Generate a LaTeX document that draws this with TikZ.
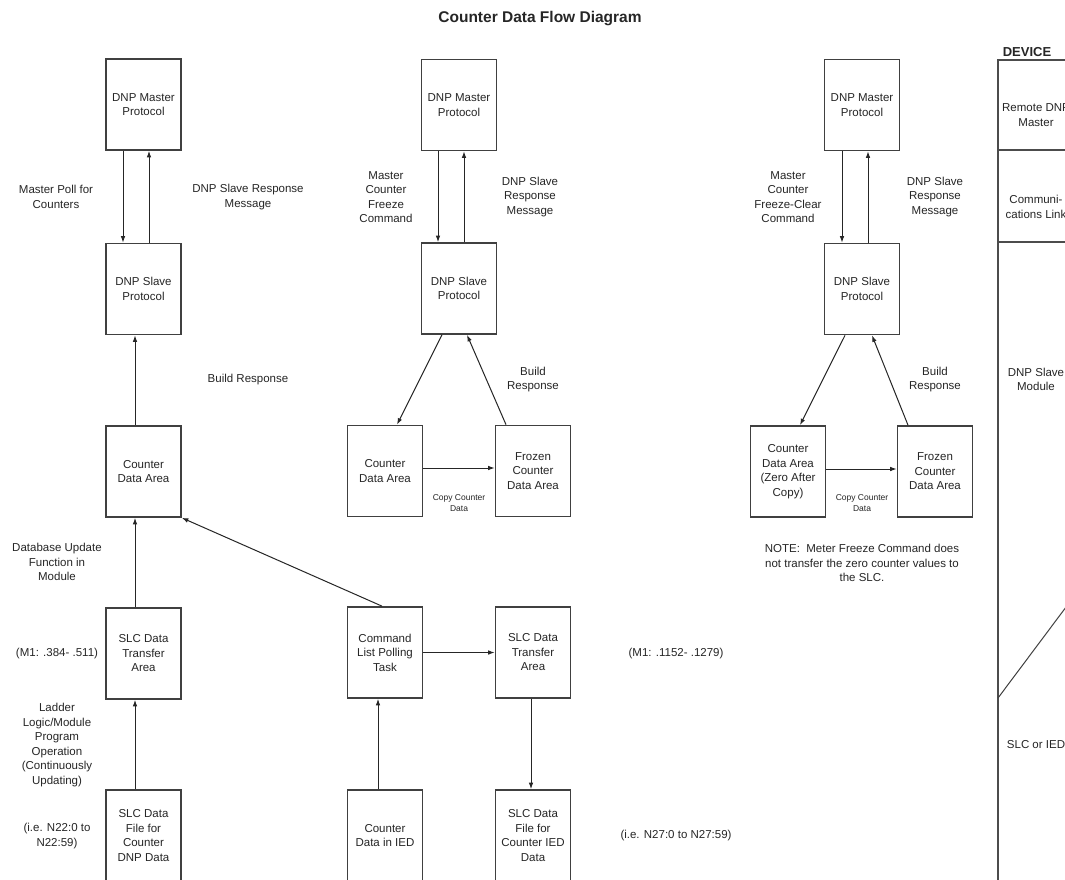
\documentclass[tikz,border=0pt]{standalone}
\usepackage{fontspec}
\setmainfont{Liberation Sans}
\usetikzlibrary{arrows.meta}
\begin{document}
\begin{tikzpicture}[x=1pt,y=-1pt,
  box/.style={draw=black!75, line width=1.7pt, minimum width=75pt, minimum height=91pt,
    inner sep=0pt, align=center, font=\fontsize{11.5}{14.5}\selectfont, text=black!85},
  lbl/.style={align=center, inner sep=0pt, font=\fontsize{11.5}{14.5}\selectfont, text=black!85},
  small/.style={align=center, inner sep=0pt, font=\fontsize{8.5}{11}\selectfont, text=black!85},
  arr/.style={draw=black!85, line width=1pt, -{Latex[length=6.5pt,width=4.6pt]}},
  devline/.style={draw=black!70, line width=1.6pt},
  bold/.style={inner sep=0pt, font=\bfseries\fontsize{13}{15}\selectfont, text=black!85}]
\clip (0,0) rectangle (1065,880);
\fill[white] (0,0) rectangle (1065,880);

% title
\node[bold, font=\bfseries\fontsize{15.5}{18}\selectfont] (title) at (540,19) {Counter Data Flow Diagram};

% ---------- column 1 ----------
\node[box] (m1) at (143.5,104.5) {DNP Master\\Protocol};
\node[box] (s1) at (143.5,289) {DNP Slave\\Protocol};
\node[box] (c1) at (143.5,471.5) {Counter\\Data Area};
\node[box] (t1) at (143.5,653.5) {SLC Data\\Transfer\\Area};
\node[box] (f1) at (143.5,835.5) {SLC Data\\File for\\Counter\\DNP Data};

\draw[arr] ([xshift=-20.5pt]m1.south) -- ([xshift=-20.5pt]s1.north);
\draw[arr] ([xshift=5.5pt]s1.north) -- ([xshift=5.5pt]m1.south);
\draw[arr] ([xshift=-8.5pt]c1.north) -- ([xshift=-8.5pt]s1.south);
\draw[arr] ([xshift=-8.5pt]t1.north) -- ([xshift=-8.5pt]c1.south);
\draw[arr] ([xshift=-8.5pt]f1.north) -- ([xshift=-8.5pt]t1.south);

\node[lbl] (l1a) at (56,197) {Master Poll for\\Counters};
\node[lbl] (l1b) at (248,197) {DNP Slave Response\\Message};
\node[lbl] (l1c) at (248,380) {Build Response};
\node[lbl] (l1d) at (57,562) {Database Update\\Function in\\Module};
\node[lbl] (l1e) at (57,654) {(M1: .384- .511)};
\node[lbl] (l1f) at (57,745) {Ladder\\Logic/Module\\Program\\Operation\\(Continuously\\Updating)};
\node[lbl] (l1g) at (57,836) {(i.e. N22:0 to\\N22:59)};

% ---------- column 2 ----------
\node[box] (m2) at (459,105) {DNP Master\\Protocol};
\node[box] (s2) at (459,288.5) {DNP Slave\\Protocol};
\node[box] (c2) at (385,471) {Counter\\Data Area};
\node[box] (z2) at (533,471) {Frozen\\Counter\\Data Area};
\node[box] (cmd) at (385,652.5) {Command\\List Polling\\Task};
\node[box] (t2) at (533,652.5) {SLC Data\\Transfer\\Area};
\node[box] (ied) at (385,835.5) {Counter\\Data in IED};
\node[box] (f2) at (533,835.5) {SLC Data\\File for\\Counter IED\\Data};

\draw[arr] ([xshift=-21pt]m2.south) -- ([xshift=-21pt]s2.north);
\draw[arr] ([xshift=5pt]s2.north) -- ([xshift=5pt]m2.south);
\draw[arr] ([xshift=-17pt]s2.south) -- ([xshift=12pt]c2.north);
\draw[arr] ([xshift=-27pt]z2.north) -- ([xshift=8pt]s2.south);
\draw[arr] ([yshift=3pt]c2.east) -- ([yshift=3pt]z2.west);
\draw[arr] ([xshift=-3pt]cmd.north) -- (c1.south east);
\draw[arr] (cmd.east) -- (t2.west);
\draw[arr] ([xshift=-7pt]ied.north) -- ([xshift=-7pt]cmd.south);
\draw[arr] ([xshift=-2pt]t2.south) -- ([xshift=-2pt]f2.north);

\node[lbl] (l2a) at (386,197) {Master\\Counter\\Freeze\\Command};
\node[lbl] (l2b) at (530,197) {DNP Slave\\Response\\Message};
\node[lbl] (l2c) at (533,379.5) {Build\\Response};
\node[small] (l2d) at (459,503) {Copy Counter\\Data};
\node[lbl] (l2e) at (676,654) {(M1: .1152- .1279)};
\node[lbl] (l2f) at (676,836) {(i.e. N27:0 to N27:59)};

% ---------- column 3 ----------
\node[box] (m3) at (862,105) {DNP Master\\Protocol};
\node[box] (s3) at (862,289) {DNP Slave\\Protocol};
\node[box] (c3) at (788,471.5) {Counter\\Data Area\\(Zero After\\Copy)};
\node[box] (z3) at (935,471.5) {Frozen\\Counter\\Data Area};

\draw[arr] ([xshift=-20pt]m3.south) -- ([xshift=-20pt]s3.north);
\draw[arr] ([xshift=6pt]s3.north) -- ([xshift=6pt]m3.south);
\draw[arr] ([xshift=-17pt]s3.south) -- ([xshift=12pt]c3.north);
\draw[arr] ([xshift=-27pt]z3.north) -- ([xshift=10pt]s3.south);
\draw[arr] ([yshift=2.5pt]c3.east) -- ([yshift=2.5pt]z3.west);

\node[lbl] (l3a) at (788,197) {Master\\Counter\\Freeze-Clear\\Command};
\node[lbl] (l3b) at (935,197) {DNP Slave\\Response\\Message};
\node[lbl] (l3c) at (935,379.5) {Build\\Response};
\node[small] (l3d) at (862,503.5) {Copy Counter\\Data};
\node[lbl] (l3e) at (862,563) {NOTE:\ \ Meter Freeze Command does\\not transfer the zero counter values to\\the SLC.};

% ---------- device column ----------
\node[bold] (dev) at (1027,52) {DEVICE};
\coordinate (dtl) at (998,60);
\coordinate (dtr) at (1090,60);
\coordinate (dbl) at (998,890);
\coordinate (d1l) at (998,150);
\coordinate (d1r) at (1090,150);
\coordinate (d2l) at (998,242);
\coordinate (d2r) at (1090,242);
\coordinate (ddl) at (998,698);
\coordinate (ddr) at (1090,575);
\draw[devline] (dbl) -- (dtl) -- (dtr);
\draw[devline] (d1l) -- (d1r);
\draw[devline] (d2l) -- (d2r);
\draw[draw=black!75, line width=1pt] (ddl) -- (ddr);

\node[lbl] (dv1) at (1036,115) {Remote DNP\\Master};
\node[lbl] (dv2) at (1036,207) {Communi-\\cations Link};
\node[lbl] (dv3) at (1036,379.5) {DNP Slave\\Module};
\node[lbl] (dv4) at (1036,745) {SLC or IED};
\end{tikzpicture}
\end{document}
